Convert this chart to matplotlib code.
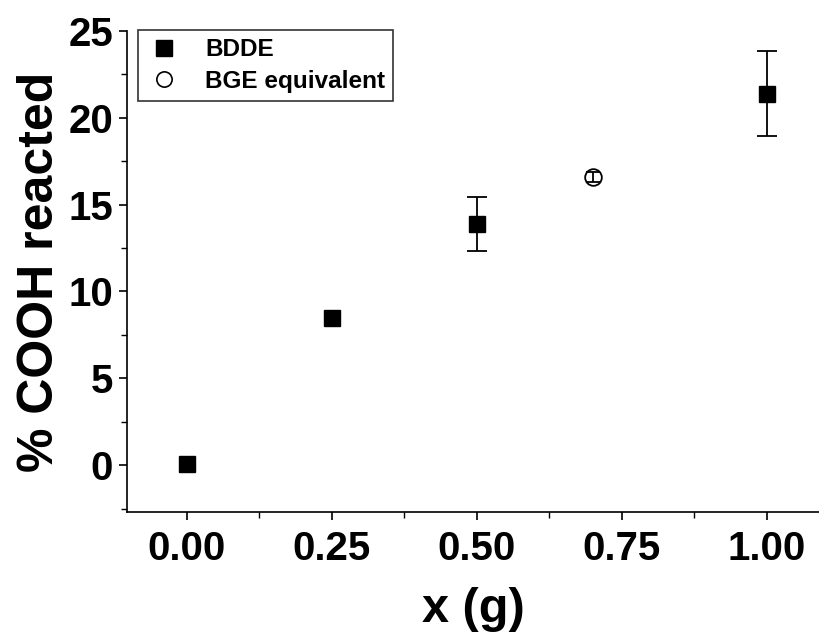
import matplotlib
matplotlib.use("Agg")
import matplotlib.pyplot as plt
from matplotlib.ticker import MultipleLocator
from matplotlib.lines import Line2D

plt.rcParams['font.family'] = ['Liberation Sans', 'DejaVu Sans']
plt.rcParams['font.weight'] = 'bold'

# data
bdde_x = [0.0, 0.25, 0.5, 1.0]
bdde_y = [0.05, 8.5, 13.9, 21.4]
bdde_err = [0.0, 0.0, 1.55, 2.45]

bge_x = [0.7]
bge_y = [16.6]
bge_err = [0.3]

fig = plt.figure(figsize=(8.19, 6.43), dpi=100)
ax = fig.add_axes([127 / 819, 1 - 512 / 643, 1 - 127 / 819, (512 - 31) / 643])

# error bars only where there is an error
ex = [x for x, e in zip(bdde_x, bdde_err) if e > 0]
ey = [y for y, e in zip(bdde_y, bdde_err) if e > 0]
ee = [e for e in bdde_err if e > 0]
ax.errorbar(ex, ey, yerr=ee, fmt='none', ecolor='black', capsize=7,
            elinewidth=1.3, capthick=1.3, zorder=2)
ax.plot(bdde_x, bdde_y, ls='none', marker='s', ms=12, color='black', zorder=3)

ax.errorbar(bge_x, bge_y, yerr=bge_err, fmt='o', mfc='none', mec='black',
            color='black', ms=12, mew=1.3, capsize=5, elinewidth=1.3,
            capthick=1.3, zorder=3)

ax.set_xlim(-0.103, 1.09)
ax.set_ylim(-2.7, 25)
ax.xaxis.set_major_locator(MultipleLocator(0.25))
ax.xaxis.set_minor_locator(MultipleLocator(0.125))
ax.yaxis.set_major_locator(MultipleLocator(5))
ax.yaxis.set_minor_locator(MultipleLocator(2.5))
ax.xaxis.set_major_formatter(lambda v, p: f"{v:.2f}")

for s in ['top', 'right']:
    ax.spines[s].set_visible(False)
for s in ['left', 'bottom']:
    ax.spines[s].set_linewidth(1.2)

ax.tick_params(which='major', direction='out', length=6, width=1.2,
               labelsize=29)
ax.tick_params(axis='x', which='major', pad=7)
ax.tick_params(axis='y', which='major', pad=4)
ax.tick_params(which='minor', direction='out', length=4, width=1.0)

ax.set_xlabel('x (g)', fontsize=35, fontweight='bold', labelpad=14)
ax.set_ylabel('% COOH reacted', fontsize=36, fontweight='bold', labelpad=4)

handles = [
    Line2D([], [], ls='none', marker='s', ms=11, color='black'),
    Line2D([], [], ls='none', marker='o', ms=11, mfc='white', mec='black', mew=1.2),
]
leg = ax.legend(handles, ['BDDE', 'BGE equivalent'], loc='upper left',
                bbox_to_anchor=(0.016, 1.003), fontsize=17.5,
                frameon=True, fancybox=False, edgecolor='black',
                handletextpad=1.0, borderpad=0.35, labelspacing=0.35,
                handlelength=1.4, borderaxespad=0)
leg.get_frame().set_linewidth(1.2)

fig.savefig('out.png', dpi=100)
